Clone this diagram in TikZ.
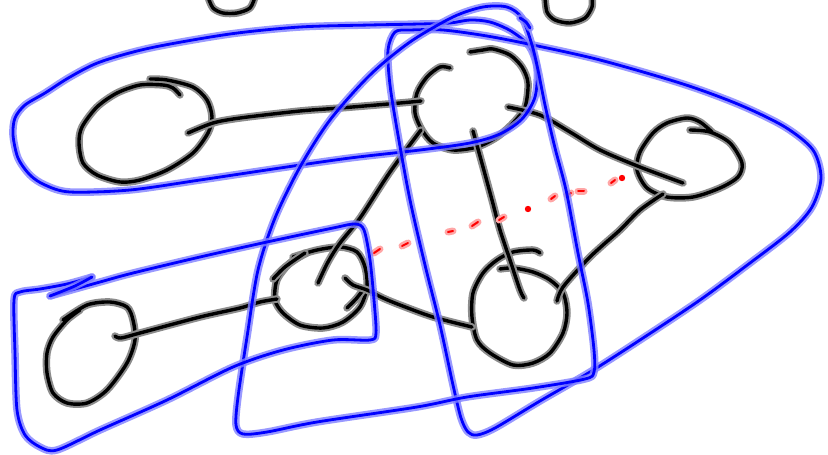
\documentclass[tikz,border=0pt]{standalone}
\begin{document}
\begin{tikzpicture}[x=1pt,y=-1pt,
  ink/.style={line width=3.4pt, black, line cap=round, line join=round,
    preaction={draw=black!45, line width=7.5pt, line cap=round, line join=round}},
  blueink/.style={line width=2.8pt, blue, line cap=round, line join=round,
    preaction={draw=blue!50, line width=7.5pt, opacity=0.8, line cap=round, line join=round}},
  redink/.style={line width=2pt, red, line cap=round,
    preaction={draw=red!35, line width=7pt, line cap=round}},
  reddot/.style={fill=red}]
\useasboundingbox (0,0) rectangle (828,455);
\clip (0,0) rectangle (828,455);
% black circles
\draw[ink] plot[smooth] coordinates {(150,79) (167,80) (193,87) (207,100) (212,117) (208,133) (193,153) (167,170) (140,180) (120,182) (97,175) (83,163) (79,143) (82,127) (97,107) (117,93) (140,85) (163,85) (173,88) (180,95)};
\draw[ink] plot[smooth] coordinates {(450,68) (440,67) (427,77) (417,93) (415,113) (422,130) (433,143) (453,150) (477,147) (497,137) (513,123) (525,107) (528,83) (522,67) (510,55) (493,49) (483,50) (470,52)};
\draw[ink] plot[smooth] coordinates {(690,130) (710,132) (730,143) (742,163) (738,177) (720,188) (693,197) (667,197) (647,188) (637,170) (640,152) (653,133) (667,123) (687,118) (700,122) (712,132)};
\draw[ink] plot[smooth] coordinates {(540,253) (533,250) (513,252) (497,260) (483,273) (473,293) (472,317) (477,340) (490,353) (513,365) (533,363) (550,353) (563,333) (567,313) (563,293) (550,280) (533,272) (513,268) (500,269)};
\draw[ink] plot[smooth] coordinates {(293,257) (317,250) (340,247) (357,252) (365,267) (367,287) (360,307) (343,322) (323,328) (300,325) (283,313) (275,300) (277,280) (290,263) (307,253)};
\draw[ink] plot[smooth] coordinates {(273,279) (285,267) (305,253)};
\draw[ink] plot[smooth] coordinates {(347,308) (356,299) (363,290)};
\draw[ink] plot[smooth] coordinates {(63,320) (87,305) (110,302) (127,307) (133,320) (135,340) (127,363) (107,390) (87,403) (67,403) (53,393) (47,373) (47,353) (53,337) (67,320) (80,310)};
\draw[ink] plot[smooth] coordinates {(208,-3) (213,8) (223,13) (237,13) (250,8) (255,-3)};
\draw[ink] plot[smooth] coordinates {(545,-3) (547,12) (555,20) (570,23) (585,18) (592,7) (592,-3)};
% black edges
\draw[ink] plot[smooth] coordinates {(188,133) (213,123) (240,118) (300,111) (340,108) (400,103) (421,101)};
\draw[ink] plot[smooth] coordinates {(421,130) (390,172) (360,218) (340,243) (328,262) (318,283)};
\draw[ink] plot[smooth] coordinates {(473,131) (483,167) (492,200) (500,230) (510,260) (520,290) (524,298)};
\draw[ink] plot[smooth] coordinates {(508,107) (540,115) (570,132) (600,150) (640,167) (683,183)};
\draw[ink] plot[smooth] coordinates {(663,194) (640,210) (620,230) (603,245) (587,260) (563,287) (557,301)};
\draw[ink] plot[smooth] coordinates {(345,278) (353,285) (367,290) (383,298) (400,305) (433,317) (472,327)};
\draw[ink] plot[smooth] coordinates {(115,336) (121,338) (140,333) (200,317) (240,308) (260,302) (277,299)};
% red dotted line
\foreach \a/\b/\c/\d in {374/253/380/249, 402/246/408/243, 448/232/453/231, 472/226/478/222, 499/220/504/217, 551/199/555/196, 567/195/571/193, 578/191/584/191, 611/183/615/180}
  \draw[redink] (\a,\b) -- (\c,\d);
\fill[reddot] (528,209) circle (3.2);
\fill[reddot] (622,178) circle (3.2);
% blue strokes
\draw[blueink] plot[smooth cycle] coordinates {(420,24) (370,25) (300,27) (230,34) (150,48) (100,62) (70,77) (45,93) (25,105) (15,118) (13,135) (18,158) (30,175) (45,185) (70,192) (130,190) (200,180) (280,168) (350,158) (420,150) (470,143) (500,134) (522,119) (535,97) (537,68) (529,46) (511,31) (490,22) (470,20) (450,23)};
\draw[blueink] plot[smooth cycle] coordinates {(395,32) (388,50) (390,85) (398,135) (410,200) (425,265) (440,325) (453,385) (461,418) (468,432) (477,435) (495,428) (540,401) (590,372) (640,340) (700,300) (750,263) (790,232) (812,207) (821,178) (813,150) (785,127) (740,105) (683,84) (600,60) (533,45) (487,36) (443,30) (410,30)};
\draw[blueink] plot[smooth cycle] coordinates {(522,18) (507,7) (483,7) (453,17) (410,42) (370,75) (330,120) (300,167) (275,218) (258,270) (247,337) (238,397) (236,425) (243,434) (267,432) (317,422) (417,407) (467,397) (533,388) (585,379) (594,372) (594,350) (588,303) (578,253) (566,190) (555,148) (545,105) (538,70) (532,45)};
\draw[blueink] plot[smooth] coordinates {(520,18) (526,22) (530,28)};
\draw[blueink] plot[smooth] coordinates {(50,296) (100,282) (133,273) (200,257) (267,242) (333,228) (355,224) (364,230) (370,260) (374,300) (376,333) (370,340) (333,340) (283,350) (233,367) (167,400) (100,430) (57,450) (40,447) (25,435) (17,410) (15,353) (14,300) (20,292) (40,289) (67,284) (92,277)};
\draw[blueink] plot[smooth] coordinates {(92,277) (75,286) (50,296)};
\end{tikzpicture}
\end{document}
